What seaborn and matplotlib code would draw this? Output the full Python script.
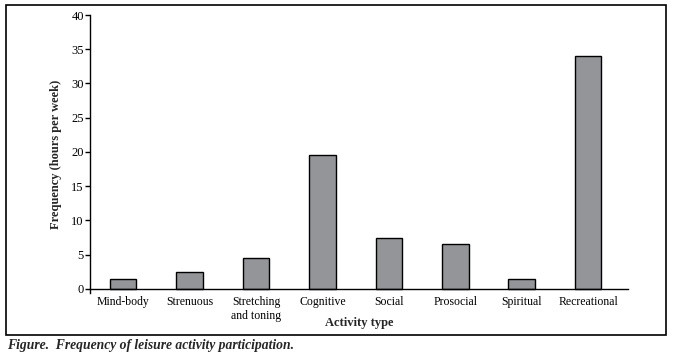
import matplotlib
matplotlib.use("Agg")
import matplotlib.pyplot as plt
import seaborn as sns
import pandas as pd
from matplotlib.patches import Rectangle

activities = ["Mind-body", "Strenuous", "Stretching\nand toning", "Cognitive",
              "Social", "Prosocial", "Spiritual", "Recreational"]
hours = [1.5, 2.5, 4.5, 19.5, 7.5, 6.5, 1.5, 34]
y_ticks = [0, 5, 10, 15, 20, 25, 30, 35, 40]

sns.set_style("ticks")
plt.rcParams['font.family'] = ['Liberation Serif', 'DejaVu Serif']

df = pd.DataFrame({"Activity type": activities, "Frequency": hours})

fig = plt.figure(figsize=(6.73, 3.59), dpi=100)
ax = fig.add_axes([90 / 673, 66 / 359, 538 / 673, 278 / 359])

sns.barplot(data=df, x="Activity type", y="Frequency", color="#939598",
            edgecolor="black", linewidth=1, width=0.4, saturation=1, ax=ax)

ax.set_xlim(-0.5, 7.6)
ax.set_ylim(-0.6, 40)
ax.set_yticks(y_ticks)
ax.tick_params(axis="y", labelsize=9, length=3.5, width=1, pad=1, colors="black")
ax.tick_params(axis="x", labelsize=8.5, length=0, pad=5, colors="black")
for lab in ax.get_xticklabels():
    lab.set_linespacing(1.1)
ax.spines["top"].set_visible(False)
ax.spines["right"].set_visible(False)
ax.spines["bottom"].set_position(("data", 0))
for s in ("left", "bottom"):
    ax.spines[s].set_linewidth(1)
    ax.spines[s].set_color("black")

ax.set_xlabel("Activity type", fontsize=9, fontweight="bold")
ax.set_ylabel("Frequency (hours per week)", fontsize=9, fontweight="bold", labelpad=7)
ax.xaxis.set_label_coords(0.5, -0.085)

# outer frame and caption
fig.patches.append(Rectangle((6 / 673, 24 / 359), 660 / 673, 330 / 359,
                             transform=fig.transFigure, fill=False,
                             edgecolor="black", linewidth=1.2))
fig.text(7 / 673, 1 - 345 / 359, "Figure.  Frequency of leisure activity participation.",
         fontsize=9.8, fontstyle="italic", fontweight="bold", ha="left", va="center")

fig.savefig("out.png", dpi=100)
